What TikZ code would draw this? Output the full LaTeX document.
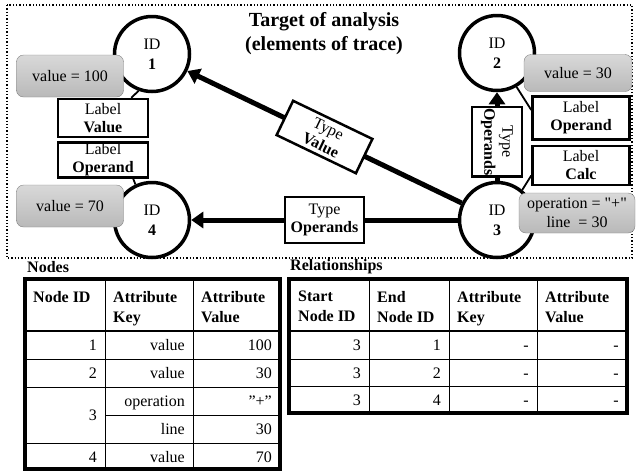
\documentclass[tikz,border=0pt]{standalone}
\usepackage{fontspec}
\setmainfont{Liberation Serif}[Ligatures=TeXOff]
\usetikzlibrary{shapes,arrows.meta,positioning}
\tikzstyle{cell} = [inner sep=0pt,font=\fontsize{16}{20}\selectfont]

\begin{document}
\begin{tikzpicture}
		[
		x=1pt,y=-1pt,
		idnode/.style={
		draw,
		circle,
		line width=3.5pt,
		fill=white,
		minimum size=75pt,
		align=center,
		font=\fontsize{16}{20}\selectfont},
		attrbox/.style={
		draw=gray,
		rounded corners=7pt,
		top color=gray!30,
		bottom color=gray!55,
		align=center,
		inner sep=0pt,
		font=\fontsize{16}{19}\selectfont},
		labelbox/.style={
		draw,
		rectangle,
		fill=white,
		line width=2.5pt,
		align=center,
		inner sep=1pt,
		font=\fontsize{16}{18}\selectfont},
		typebox/.style={
		draw,
		rectangle,
		fill=white,
		line width=2.5pt,
		align=center,
		inner xsep=5pt,
		inner ysep=3pt,
		font=\fontsize{16}{18}\selectfont},
		relation/.style={-{Triangle[length=12pt,width=16pt]},line width=5pt},
		tie/.style={line width=1.8pt},
		head/.style={cell,anchor=north west,align=left,font=\fontsize{16}{20}\selectfont\bfseries}
		]
		\useasboundingbox (0,0) rectangle (639,472);
		\draw[dotted,line width=1.3pt] (7,5) rectangle (632,258);
		\node[font=\fontsize{20}{24}\selectfont\bfseries,align=center] (title) at (324,34) {Target of analysis\\(elements of trace)};

		\node[idnode] (id_one) at (152,54) {ID\\\textbf{1}};
		\node[idnode] (id_two) at (497,53) {ID\\\textbf{2}};
		\node[idnode] (id_three) at (497,220) {ID\\\textbf{3}};
		\node[idnode] (id_four) at (152,220) {ID\\\textbf{4}};

		\draw[relation] (id_three) -- node[typebox,sloped,minimum width=88pt,minimum height=38pt] (type_value) {Type\\\textbf{Value}} (id_one);
		\draw[relation] (id_three) -- node[typebox,minimum width=79pt,minimum height=46pt] (type_operands) {Type\\\textbf{Operands}} (id_four);
		\draw[relation] (id_three) -- node[typebox,rotate=-90,pos=0.44,inner xsep=1pt,minimum height=50pt] (type_operands_up) {Type\\\textbf{Operands}} (id_two);

		\node[attrbox,minimum width=107pt,minimum height=42pt] (value_one) at (70,76) {value = 100};
		\node[attrbox,minimum width=107pt,minimum height=42pt] (value_four) at (70,206) {value = 70};
		\node[attrbox,minimum width=108pt,minimum height=37pt] (value_two) at (578,73) {value = 30};
		\node[attrbox,minimum width=116pt,minimum height=40pt] (value_three) at (577,213) {operation = "+"\\line~ = 30};

		\node[labelbox,minimum width=90pt,minimum height=38pt] (label_value) at (103,118) {Label\\\textbf{Value}};
		\node[labelbox,minimum width=90pt,minimum height=35pt,below=3pt of label_value] (label_operand) {Label\\\textbf{Operand}};
		\node[labelbox,minimum width=97pt,minimum height=43pt] (label_operand_two) at (581,118) {Label\\\textbf{Operand}};
		\node[labelbox,minimum width=97pt,minimum height=39pt,below=4pt of label_operand_two] (label_calc) {Label\\\textbf{Calc}};

		\draw[tie] (id_one.250) -- ([xshift=-18pt]label_value.north east);
		\draw[tie] ([xshift=-16pt]label_operand.south east) -- (id_four.115);
		\draw[tie] (id_two.300) -- ([yshift=8pt]label_operand_two.west);
		\draw[tie] ([yshift=-10pt]label_calc.west) -- (id_three.50);

		% nodes table
		\node[cell,anchor=west,font=\fontsize{16}{20}\selectfont\bfseries] (nodes_title) at (27,267) {Nodes};
		\foreach \x in {105,193} \draw[line width=0.8pt] (\x,279) -- (\x,470);
		\foreach \y in {359,387,443} \draw[line width=0.8pt] (25,\y) -- (280,\y);
		\draw[line width=0.8pt] (105,415) -- (280,415);
		\draw[line width=1.5pt] (25,331) -- (280,331);
		\draw[line width=3.5pt] (25,279) rectangle (280,469);
		\node[head] (nodes_head_id) at (33,291) {Node ID};
		\node[head] (nodes_head_key) at (113,291) {Attribute\\Key};
		\node[head] (nodes_head_value) at (201,291) {Attribute\\Value};
		\foreach \id/\key/\val/\y [count=\i] in {1/value/100/345,2/value/30/373,4/value/70/457}
		{
		\node[cell,anchor=base east] (nodes_id_\i) at (97,\y+5.5) {\id};
		\node[cell,anchor=base east] (nodes_key_\i) at (185,\y+5.5) {\key};
		\node[cell,anchor=base east] (nodes_value_\i) at (272,\y+5.5) {\val};
		}
		\node[cell,anchor=base east] (nodes_id_three) at (97,420.5) {3};
		\node[cell,anchor=base east] (nodes_key_op) at (185,406.5) {operation};
		\node[cell,anchor=base east] (nodes_value_op) at (272,406.5) {”+”};
		\node[cell,anchor=base east] (nodes_key_line) at (185,434.5) {line};
		\node[cell,anchor=base east] (nodes_value_line) at (272,434.5) {30};

		% relationships table
		\node[cell,anchor=west,font=\fontsize{16}{20}\selectfont\bfseries] (rels_title) at (290,267) {Relationships};
		\foreach \x in {369,449,537} \draw[line width=0.8pt] (\x,279) -- (\x,413);
		\foreach \y in {359,386} \draw[line width=0.8pt] (289,\y) -- (627,\y);
		\draw[line width=1.5pt] (289,331) -- (627,331);
		\draw[line width=3.5pt] (289,279) rectangle (627,413);
		\node[head] (rels_head_start) at (298,291) {Start\\Node ID};
		\node[head] (rels_head_end) at (377,291) {End\\Node ID};
		\node[head] (rels_head_key) at (457,291) {Attribute\\Key};
		\node[head] (rels_head_value) at (545,291) {Attribute\\Value};
		\foreach \start/\finish/\y [count=\i] in {3/1/345,3/2/372.5,3/4/399.5}
		{
		\node[cell,anchor=base east] (rels_start_\i) at (361,\y+5.5) {\start};
		\node[cell,anchor=base east] (rels_end_\i) at (441,\y+5.5) {\finish};
		\node[cell,anchor=base east] (rels_key_\i) at (529,\y+5.5) {-};
		\node[cell,anchor=base east] (rels_value_\i) at (619,\y+5.5) {-};
		}
		\end{tikzpicture}
\end{document}
